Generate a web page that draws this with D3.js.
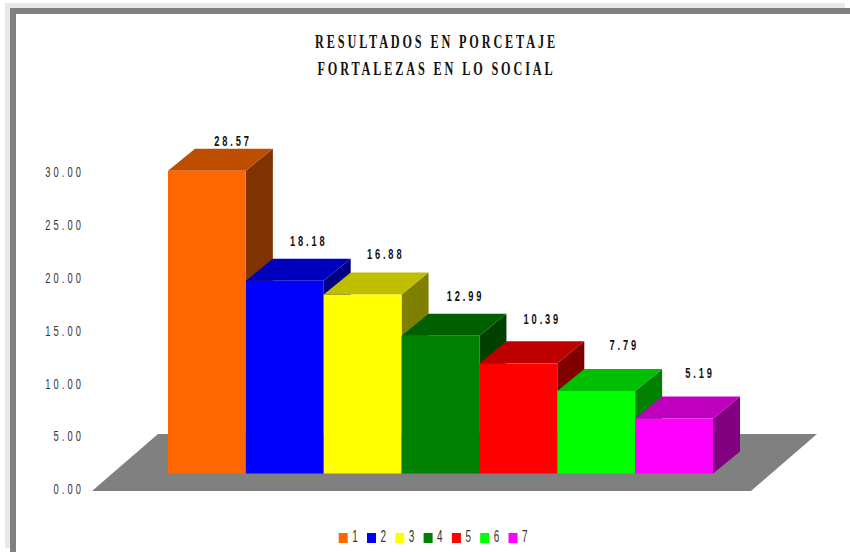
<!DOCTYPE html>
<html>
<head>
  <meta charset="UTF-8">
  <title>Resultados en porcetaje</title>
  <script src="https://d3js.org/d3.v7.min.js"></script>
  <style>
    body { margin: 0; background: #fff; }
    svg { display: block; }
    .title { font: bold 18px "Liberation Serif", serif; fill: #111; letter-spacing: 4.2px; }
    .tick-label { font: 15px "Liberation Sans", sans-serif; fill: #333; letter-spacing: 5px; }
    .value-label { font: bold 15px "Liberation Sans", sans-serif; fill: #111; letter-spacing: 4.6px; }
    .legend-label { font: 16px "Liberation Sans", sans-serif; fill: #333; }
  </style>
</head>
<body>
<script>
  // datos
  const categories = ["1", "2", "3", "4", "5", "6", "7"];
  const values = [28.57, 18.18, 16.88, 12.99, 10.39, 7.79, 5.19];
  const barColors = ["#ff6600", "#0000ff", "#ffff00", "#008000", "#ff0000", "#00ff00", "#ff00ff"];
  const tickValues = [0, 5, 10, 15, 20, 25, 30];
  const titleLines = ["RESULTADOS EN PORCETAJE", "FORTALEZAS EN LO SOCIAL"];

  const width = 850, height = 552;
  const depthX = 27, depthY = 22;     // profundidad de las barras
  const textSquash = 0.62;            // el texto original sale estrecho

  // ajustes a mano de las etiquetas (dx, dy respecto a la cara trasera)
  const labelNudge = [[-1, -3], [-3, -13], [-4, -14], [-2, -13], [-3, -17], [1, -19], [-1, -18]];

  const svg = d3.select("body").append("svg")
      .attr("width", width)
      .attr("height", height);

  // marco
  svg.append("rect").attr("x", 5).attr("y", 3).attr("width", 840).attr("height", 545).attr("fill", "#e8e8e8");
  svg.append("rect").attr("x", 10).attr("y", 8).attr("width", 840).attr("height", 544).attr("fill", "#808080");
  svg.append("rect").attr("x", 16).attr("y", 14).attr("width", 834).attr("height", 538).attr("fill", "#ffffff");

  const x = d3.scaleBand().domain(categories).range([168, 713]);
  const y = d3.scaleLinear().domain([0, 30]).range([473.5, 155.5]);
  const yAxisScale = d3.scaleLinear().domain([0, 30]).range([488.5, 171.5]);

  // titulo
  svg.selectAll("text.title")
    .data(titleLines)
    .join("text")
      .attr("class", "title")
      .attr("text-anchor", "middle")
      .attr("transform", (d, i) => `translate(436.5,${48 + i * 27}) scale(0.68,1)`)
      .text(d => d);

  // suelo
  const floorPts = [
    [x.range()[0] - 76, y(0) + 17.5],
    [x.range()[0] - 10, y(0) - 39.5],
    [x.range()[1] + 104, y(0) - 39.5],
    [x.range()[1] + 38, y(0) + 17.5]
  ];
  svg.append("polygon")
    .attr("points", floorPts.join(" "))
    .attr("fill", "#808080");

  // eje y, solo las etiquetas
  const axisG = svg.append("g")
      .attr("transform", "translate(84,0)")
      .call(d3.axisLeft(yAxisScale).tickValues(tickValues).tickSize(0).tickFormat(d3.format(".2f")));
  axisG.select(".domain").remove();
  axisG.selectAll("text")
      .attr("class", "tick-label")
      .attr("x", 0)
      .attr("dy", "0.35em")
      .attr("transform", `scale(${textSquash},1)`);
  axisG.attr("font-family", null).attr("font-size", null);

  // barras
  const rows = categories.map((c, i) => ({ cat: c, value: values[i], color: barColors[i], nudge: labelNudge[i] }));

  const bars = svg.selectAll("g.bar")
    .data(rows)
    .join("g")
      .attr("class", "bar");

  bars.append("polygon") // lado
      .attr("fill", d => shade(d.color, 0.5))
      .attr("points", d => {
        const r = x(d.cat) + x.bandwidth();
        return [[r, y(d.value)], [r + depthX, y(d.value) - depthY], [r + depthX, y(0) - depthY], [r, y(0)]].join(" ");
      });

  bars.append("polygon") // tapa
      .attr("fill", d => shade(d.color, 0.75))
      .attr("points", d => {
        const l = x(d.cat), r = l + x.bandwidth(), t = y(d.value);
        return [[l, t], [l + depthX, t - depthY], [r + depthX, t - depthY], [r, t]].join(" ");
      });

  bars.append("rect") // frente
      .attr("x", d => x(d.cat))
      .attr("y", d => y(d.value))
      .attr("width", x.bandwidth())
      .attr("height", d => y(0) - y(d.value))
      .attr("fill", d => d.color);

  // valores sobre las barras
  svg.selectAll("text.value-label")
    .data(rows)
    .join("text")
      .attr("class", "value-label")
      .attr("text-anchor", "middle")
      .attr("transform", d => {
        const cx = x(d.cat) + x.bandwidth() / 2 + depthX + d.nudge[0];
        const ty = y(d.value) - depthY + d.nudge[1];
        return `translate(${cx},${ty}) scale(${textSquash},1)`;
      })
      .text(d => d.value.toFixed(2));

  // leyenda
  const legendX = d3.scaleBand().domain(categories).range([338.7, 338.7 + 7 * 28.3]);
  const legend = svg.selectAll("g.legend")
    .data(rows)
    .join("g")
      .attr("class", "legend")
      .attr("transform", d => `translate(${legendX(d.cat)},533)`);
  legend.append("rect")
      .attr("width", 9)
      .attr("height", 10)
      .attr("fill", d => d.color);
  legend.append("text")
      .attr("class", "legend-label")
      .attr("transform", `translate(13.5,8.5) scale(${textSquash},1)`)
      .text(d => d.cat);

  function shade(color, k) {
    const c = d3.rgb(color);
    return d3.rgb(c.r * k, c.g * k, c.b * k).formatHex();
  }
</script>
</body>
</html>
